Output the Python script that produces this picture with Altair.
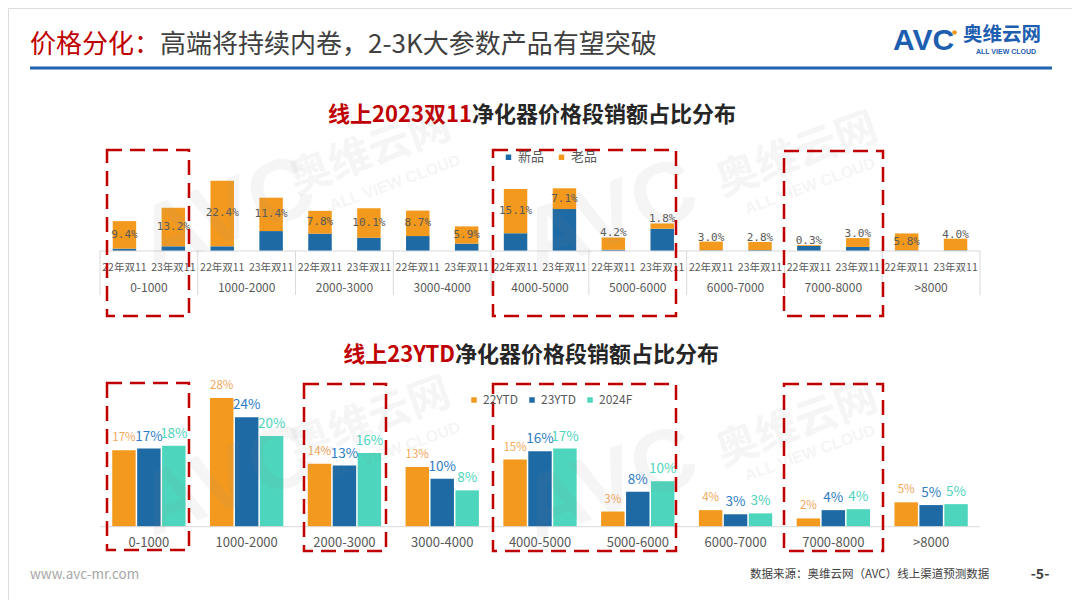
import altair as alt
import pandas as pd

# ---------------- data ----------------
groups = ["0-1000", "1000-2000", "2000-3000", "3000-4000", "4000-5000",
          "5000-6000", "6000-7000", "7000-8000", ">8000"]
years = ["22年双11", "23年双11"]
top_series = ["新品", "老品"]
new_22 = [0.8, 1.6, 5.9, 5.1, 6.1, 0.4, 0.2, 1.7, 0.2]
new_23 = [1.6, 6.8, 4.5, 2.5, 14.3, 7.6, 0.3, 1.4, 0.2]
old_22 = [9.4, 22.4, 7.8, 8.7, 15.1, 4.2, 3.0, 0.3, 5.8]
old_23 = [13.2, 11.4, 10.1, 5.9, 7.1, 1.8, 2.8, 3.0, 4.0]

bot_series = ["22YTD", "23YTD", "2024F"]
ytd22 = [16.6, 28.0, 13.7, 13.0, 14.6, 3.3, 3.6, 1.8, 5.3]
ytd23 = [17.0, 23.8, 13.3, 10.4, 16.4, 7.6, 2.7, 3.6, 4.7]
f2024 = [17.6, 19.7, 16.0, 7.9, 17.0, 9.9, 2.9, 3.8, 4.9]

# ---------------- styles ----------------
CJK = "Noto Sans CJK SC"
MONO = "DejaVu Sans Mono"
BLUE = "#1D6AA5"
ORANGE = "#F39A1E"
TEAL = "#4DD6BD"
RED = "#C00000"
GRAY = "#595959"
LINE = "#D9D9D9"

X0, X1 = 92, 972
TOP_BASE, TOP_PX, TOP_MAX = 243, 2.93, 25
BOT_BASE, BOT_PX, BOT_MAX = 518.7, 4.6, 30


def gx(**kw):
    return alt.X("group:N", scale=alt.Scale(domain=groups, range=[X0, X1],
                                            paddingInner=0, paddingOuter=0),
                 axis=None, **kw)


top_off = alt.XOffset("year:N", scale=alt.Scale(domain=years, paddingInner=0.52,
                                                paddingOuter=0.26))
top_y_scale = alt.Scale(domain=[0, TOP_MAX], range=[TOP_BASE, TOP_BASE - TOP_PX * TOP_MAX],
                        nice=False)
bot_off = alt.XOffset("series:N", scale=alt.Scale(domain=bot_series, paddingInner=0.06,
                                                  paddingOuter=0.49))
bot_y_scale = alt.Scale(domain=[0, BOT_MAX], range=[BOT_BASE, BOT_BASE - BOT_PX * BOT_MAX],
                        nice=False)


def txt(s, x, y, size, color, align="left", weight="normal", font=CJK, angle=0,
        opacity=1.0):
    return alt.Chart(pd.DataFrame({"t": [s]})).mark_text(
        align=align, baseline="middle", fontSize=size, color=color, font=font,
        fontWeight=weight, angle=angle, opacity=opacity
    ).encode(x=alt.value(x), y=alt.value(y), text="t:N")


# ---------------- top chart data ----------------
rows, lab = [], []
for i, g in enumerate(groups):
    for yr, nv, ov in ((years[0], new_22[i], old_22[i]), (years[1], new_23[i], old_23[i])):
        rows.append({"group": g, "year": yr, "series": "新品", "y0": 0, "y1": nv})
        rows.append({"group": g, "year": yr, "series": "老品", "y0": nv, "y1": nv + ov})
        ly = nv + ov / 2 if ov >= 5 else nv + ov + 1.4
        lab.append({"group": g, "year": yr, "ly": ly, "label": f"{ov:.1f}%"})
top_df = pd.DataFrame(rows)
top_lab = pd.DataFrame(lab)
yr_df = pd.DataFrame([{"group": g, "year": y} for g in groups for y in years])
grp_df = pd.DataFrame({"group": groups})

top_bars = alt.Chart(top_df).mark_bar().encode(
    x=gx(), xOffset=top_off,
    y=alt.Y("y1:Q", scale=top_y_scale, axis=None), y2="y0:Q",
    color=alt.Color("series:N", scale=alt.Scale(domain=top_series, range=[BLUE, ORANGE]),
                    legend=alt.Legend(orient="none", legendX=494, legendY=142.5,
                                      direction="horizontal", title=None,
                                      symbolType="square", symbolSize=30,
                                      symbolStrokeWidth=0, labelFont=CJK,
                                      labelFontSize=13, labelColor=GRAY, labelOffset=3,
                                      columnPadding=10, padding=0)),
)
top_labels = alt.Chart(top_lab).mark_text(font=MONO, fontSize=11, color=GRAY,
                                          baseline="middle").encode(
    x=gx(), xOffset=top_off, y=alt.Y("ly:Q", scale=top_y_scale, axis=None), text="label:N")
top_year = alt.Chart(yr_df).mark_text(font=CJK, fontSize=10.5, color=GRAY,
                                      baseline="middle").encode(
    x=gx(), xOffset=top_off, y=alt.value(260), text="year:N")
top_grp = alt.Chart(grp_df).mark_text(font=CJK, fontSize=12, color=GRAY,
                                      baseline="middle").encode(
    x=gx(), y=alt.value(280), text="group:N")
top_sep = alt.Chart(grp_df).mark_rule(color=LINE, strokeWidth=1).encode(
    x=gx(bandPosition=0), y=alt.value(TOP_BASE), y2=alt.value(287))
top_sep_end = alt.Chart(grp_df.tail(1)).mark_rule(color=LINE, strokeWidth=1).encode(
    x=gx(bandPosition=1), y=alt.value(TOP_BASE), y2=alt.value(287))
top_axis = alt.Chart(grp_df.head(1)).mark_rule(color=LINE, strokeWidth=1).encode(
    x=alt.value(X0), x2=alt.value(X1), y=alt.value(TOP_BASE))

top = alt.layer(top_bars, top_axis, top_sep, top_sep_end, top_labels, top_year, top_grp)

# ---------------- bottom chart data ----------------
brows = []
for i, g in enumerate(groups):
    for s, arr in zip(bot_series, (ytd22, ytd23, f2024)):
        v = arr[i]
        brows.append({"group": g, "series": s, "value": v, "label": f"{int(v + 0.5)}%"})
bot_df = pd.DataFrame(brows)

bot_bars = alt.Chart(bot_df).mark_bar().encode(
    x=gx(), xOffset=bot_off,
    y=alt.Y("value:Q", scale=bot_y_scale, axis=None),
    color=alt.Color("series:N", scale=alt.Scale(domain=bot_series, range=[ORANGE, BLUE, TEAL]),
                    legend=alt.Legend(orient="none", legendX=460, legendY=386,
                                      direction="horizontal", title=None,
                                      symbolType="square", symbolSize=30,
                                      symbolStrokeWidth=0, labelFont=CJK,
                                      labelFontSize=12, labelColor=GRAY, labelOffset=3,
                                      columnPadding=8, padding=0)),
)
lab_styles = {"22YTD": ("#F4A85C", 11.5), "23YTD": ("#2F7EC6", 13.5), "2024F": ("#4FD5BC", 13.5)}
bot_labels = [
    alt.Chart(bot_df).transform_filter(alt.datum.series == s).mark_text(
        font=CJK, fontSize=sz, color=c, baseline="middle", dy=-12).encode(
        x=gx(), xOffset=bot_off, y=alt.Y("value:Q", scale=bot_y_scale, axis=None),
        text="label:N")
    for s, (c, sz) in lab_styles.items()
]
bot_grp = alt.Chart(grp_df).mark_text(font=CJK, fontSize=13, color=GRAY,
                                      baseline="middle").encode(
    x=gx(), y=alt.value(534.7), text="group:N")
bot_axis = alt.Chart(grp_df.head(1)).mark_rule(color=LINE, strokeWidth=1).encode(
    x=alt.value(X0), x2=alt.value(X1), y=alt.value(BOT_BASE))

bottom = alt.layer(bot_bars, bot_axis, *bot_labels, bot_grp)

# ---------------- decorations ----------------
deco = [
    txt("价格分化：", 22, 37, 26, RED),
    txt("高端将持续内卷，2-3K大参数产品有望突破", 152, 37, 26, "#404040"),
    alt.Chart(grp_df.head(1)).mark_rule(color="#1E62B0", strokeWidth=3).encode(
        x=alt.value(22), x2=alt.value(1044), y=alt.value(60)),
    txt("AVC", 885, 33, 30, "#1E5EB0", weight="bold", font="Liberation Sans"),
    alt.Chart(grp_df.head(1)).mark_circle(color="#F39A1E", size=22, opacity=1).encode(
        x=alt.value(946.5), y=alt.value(24.5)),
    txt("奥维云网", 955, 27, 19.5, "#1E5EB0", weight="bold"),
    txt("ALL VIEW CLOUD", 998, 44, 7, "#1E5EB0", align="center", weight="bold",
        font="Liberation Sans"),
    txt("线上2023双11", 464, 107, 22, RED, align="right", weight="bold"),
    txt("净化器价格段销额占比分布", 464, 107, 22, "#262626", weight="bold"),
    txt("线上23YTD", 447, 347, 22, RED, align="right", weight="bold"),
    txt("净化器价格段销额占比分布", 447, 347, 22, "#262626", weight="bold"),
    txt("www.avc-mr.com", 22, 567, 13.5, "#A6A6A6"),
    txt("数据来源：奥维云网（AVC）线上渠道预测数据", 742, 567, 11.5, "#404040"),
    txt("-5-", 1032, 567, 14, "#404040", align="center", weight="bold"),
]

# watermarks
wm = []
for ax, ay, cx, cy, lx, ly in [(219, 207, 362, 145, 387, 175), (602, 210, 789, 147, 802, 178),
                               (219, 474, 362, 412, 387, 442), (602, 477, 789, 417, 802, 445)]:
    wm.append(txt("AVC", ax, ay, 88, "#8C8C8C", align="center", weight="bold",
                  font="Liberation Sans", angle=340, opacity=0.08))
    wm.append(txt("奥维云网", cx, cy, 42, "#8C8C8C", align="center", weight="bold",
                  angle=340, opacity=0.08))
    wm.append(txt("ALL VIEW CLOUD", lx, ly, 16, "#8C8C8C", align="center", weight="bold",
                  font="Liberation Sans", angle=340, opacity=0.08))

# red dashed boxes (annotation)
boxes = pd.DataFrame({
    "x0": [99, 485, 776, 99, 296, 485, 776],
    "x1": [181, 668, 875, 181, 378, 668, 875],
    "y0": [142, 142, 143, 375, 376, 376, 376],
    "y1": [308, 308, 308, 542, 543, 543, 543],
})
box_layer = alt.Chart(boxes).mark_rect(fillOpacity=0, stroke=RED, strokeWidth=2.5,
                                       strokeDash=[15, 8]).encode(
    x=alt.X("x0:Q", scale=None), x2="x1:Q", y=alt.Y("y0:Q", scale=None), y2="y1:Q")

chart = alt.layer(*deco, top, bottom, *wm, box_layer).resolve_scale(
    x="independent", y="independent", color="independent", xOffset="independent"
).properties(
    width=1064, height=592, padding=0, autosize=alt.AutoSizeParams(type="none")
).configure_view(stroke=None).configure(background="white")

chart.save("out.html", embed_options={"renderer": "svg", "actions": False})
